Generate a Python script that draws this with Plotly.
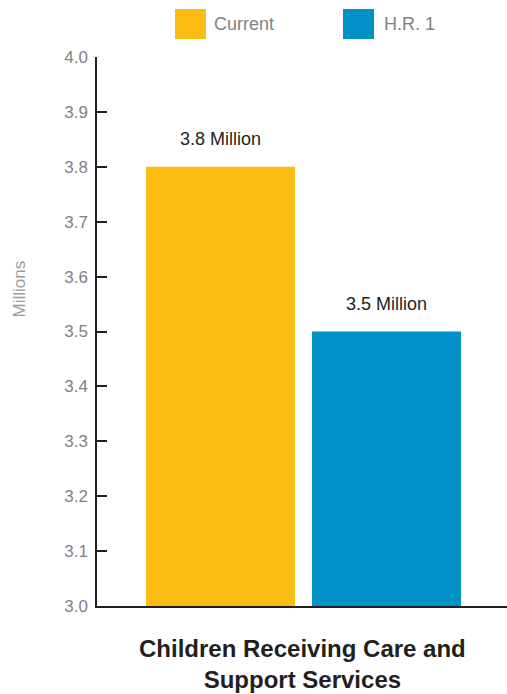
import plotly.graph_objects as go

categories = ["Current", "H.R. 1"]
values = [3.8, 3.5]
value_labels = ["3.8 Million", "3.5 Million"]
colors = ["#FBBC13", "#0091C7"]
y_ticks = [3.0, 3.1, 3.2, 3.3, 3.4, 3.5, 3.6, 3.7, 3.8, 3.9, 4.0]
x_title = "Children Receiving Care and<br>Support Services"
y_title = "Millions"

FONT = "Liberation Sans, Arial, sans-serif"
AXIS = "#231f20"
GRAY = "#808285"

fig = go.Figure()
fig.add_trace(go.Bar(
    x=categories, y=values, marker=dict(color=colors, line=dict(width=0)),
    showlegend=False, hoverinfo="skip",
))

annotations = []
for c, v, t in zip(categories, values, value_labels):
    annotations.append(dict(x=c, y=v, xref="x", yref="y", text=t, showarrow=False,
                            yanchor="middle", yshift=28,
                            font=dict(family=FONT, size=18, color="#231f20")))

annotations.append(dict(x=0.5, y=0, xref="paper", yref="paper", text="<b>" + x_title + "</b>",
                        showarrow=False, yanchor="top", yshift=-27,
                        font=dict(family=FONT, size=24, color="#231f20")))
annotations.append(dict(x=0, y=0.5, xref="paper", yref="paper", text=y_title, textangle=-90,
                        showarrow=False, xanchor="center", xshift=-78, yshift=42,
                        font=dict(family=FONT, size=17, color="#9a9a9a")))

# legend drawn manually
leg = [(categories[0], colors[0], 0.1902, 0.2805), (categories[1], colors[1], 0.6, 0.6951)]
shapes = []
for name, col, x0, tx in leg:
    shapes.append(dict(type="rect", xref="paper", yref="paper", x0=x0, x1=x0 + 0.0756,
                       y0=1.0328, y1=1.0874, fillcolor=col, line=dict(width=0)))
    annotations.append(dict(x=tx, y=1.0601, xref="paper", yref="paper", text=name,
                            showarrow=False, xanchor="left", yanchor="middle",
                            font=dict(family=FONT, size=18, color=GRAY)))

fig.update_layout(
    width=507, height=694,
    margin=dict(l=97, r=0, t=57, b=88),
    paper_bgcolor="white", plot_bgcolor="white",
    bargap=0.102,
    font=dict(family=FONT),
    annotations=annotations, shapes=shapes,
    xaxis=dict(range=[-0.744, 1.726], showticklabels=False, ticks="", showgrid=False,
               zeroline=False, showline=True, linecolor=AXIS, linewidth=1.5, fixedrange=True),
    yaxis=dict(range=[3.0, 4.0], tickvals=y_ticks, tickformat=".1f", ticks="inside",
               ticklen=10, tickcolor=AXIS, tickwidth=1.5, showgrid=False, zeroline=False,
               showline=True, linecolor=AXIS, linewidth=1.5,
               tickfont=dict(family=FONT, size=17, color=GRAY), ticklabelstandoff=4),
)

fig.write_html("out.html", config={"displayModeBar": False},
               post_script="document.body.style.margin='0';")
